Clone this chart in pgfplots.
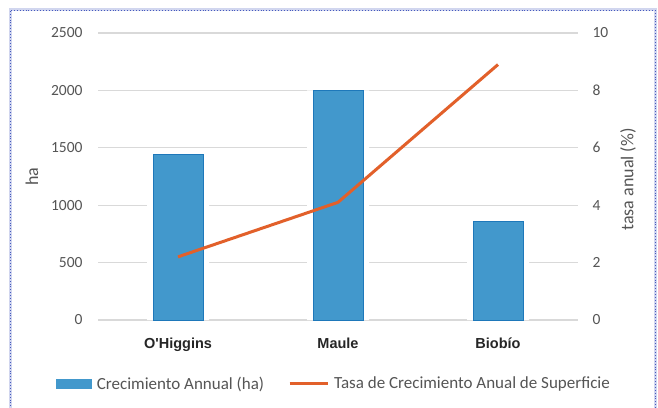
\documentclass[border=0pt]{standalone}
\usepackage{pgfplots}
\pgfplotsset{compat=1.18}
\usepackage{fontspec}
\setmainfont{Carlito}
\newfontfamily\catfont{Liberation Sans}

\definecolor{barfill}{RGB}{66,152,204}
\definecolor{baredge}{RGB}{30,120,186}
\definecolor{rateline}{RGB}{226,96,42}
\definecolor{gridgray}{RGB}{217,217,217}
\definecolor{ticktext}{RGB}{85,85,85}
\definecolor{framedot}{RGB}{70,90,190}

\begin{document}
\begin{tikzpicture}
\useasboundingbox (0pt,0pt) rectangle (658pt,407pt);
\fill[white] (0pt,0pt) rectangle (658pt,407pt);
% dotted frame
\draw[framedot!25, line width=3pt] (10pt,-5pt) -- (10pt,397pt) -- (655pt,397pt) -- (655pt,-5pt);
\draw[framedot, line width=0.9pt, dotted] (10pt,-5pt) -- (10pt,397pt) -- (655pt,397pt) -- (655pt,-5pt);

% primary axis: annual growth in hectares
\begin{axis}[
  at={(98pt,87pt)}, anchor=south west,
  scale only axis, width=480pt, height=287pt,
  xmin=-0.5, xmax=2.5, ymin=0, ymax=2500,
  xtick={0,1,2},
  xticklabels={O'Higgins, Maule, Biobío},
  x tick label style={font=\catfont\bfseries\fontsize{14.5}{16}\selectfont, text=black!85, yshift=-14pt},
  ytick={0,500,...,2500},
  y tick label style={font=\fontsize{15.5}{18}\selectfont, text=ticktext, xshift=-12pt},
  /pgf/number format/assume math mode=true,
  /pgf/number format/1000 sep={},
  ymajorgrids,
  major grid style={draw=gridgray, line width=1.3pt},
  axis line style={draw=none},
  major tick length=0pt,
  ylabel={ha},
  ylabel style={font=\fontsize{18}{20}\selectfont, text=ticktext,
    at={(axis description cs:-0.1375,0.5)}, anchor=center},
  clip=false,
]
% white halo that breaks the gridlines around each bar
\addplot[ybar, bar width=62pt, fill=white, draw=none, forget plot]
  coordinates {(0,1440) (1,2000) (2,855)};
\addplot[ybar, bar width=50pt, fill=barfill, draw=baredge, line width=1pt]
  coordinates {(0,1440) (1,2000) (2,855)};
\end{axis}

% secondary axis: annual rate of area growth (%)
\begin{axis}[
  at={(98pt,87pt)}, anchor=south west,
  scale only axis, width=480pt, height=287pt,
  xmin=-0.5, xmax=2.5, ymin=0, ymax=10,
  xtick=\empty,
  axis y line*=right,
  ytick={0,2,...,10},
  y tick label style={font=\fontsize{15.5}{18}\selectfont, text=ticktext, xshift=11pt},
  /pgf/number format/assume math mode=true,
  axis line style={draw=none},
  major tick length=0pt,
  ylabel={tasa anual (\%)},
  ylabel style={font=\fontsize{18}{20}\selectfont, text=ticktext,
    at={(axis description cs:1.104,0.49)}, anchor=center},
  clip=false,
  legend columns=2,
  legend style={at={(0.492,-0.222)}, anchor=center, draw=none, fill=none,
    font=\fontsize{17}{19}\selectfont, text=ticktext,
    /tikz/every even column/.append style={column sep=22pt}},
  legend cell align=left,
]
\addlegendimage{legend image code/.code={
  \fill[barfill] (0pt,-4.5pt) rectangle (35pt,4.5pt);
  \path (38pt,0pt);}}
\addlegendentry{Crecimiento Annual (ha)}
\addplot[rateline, line width=3pt, line join=round, no marks,
  legend image code/.code={
    \draw[rateline, line width=3pt] (0pt,0pt) -- (38pt,0pt);
    \path (41pt,0pt);}]
  coordinates {(0,2.2) (1,4.1) (2,8.9)};
\addlegendentry{Tasa de Crecimiento Anual de Superficie}
\end{axis}
\end{tikzpicture}
\end{document}
